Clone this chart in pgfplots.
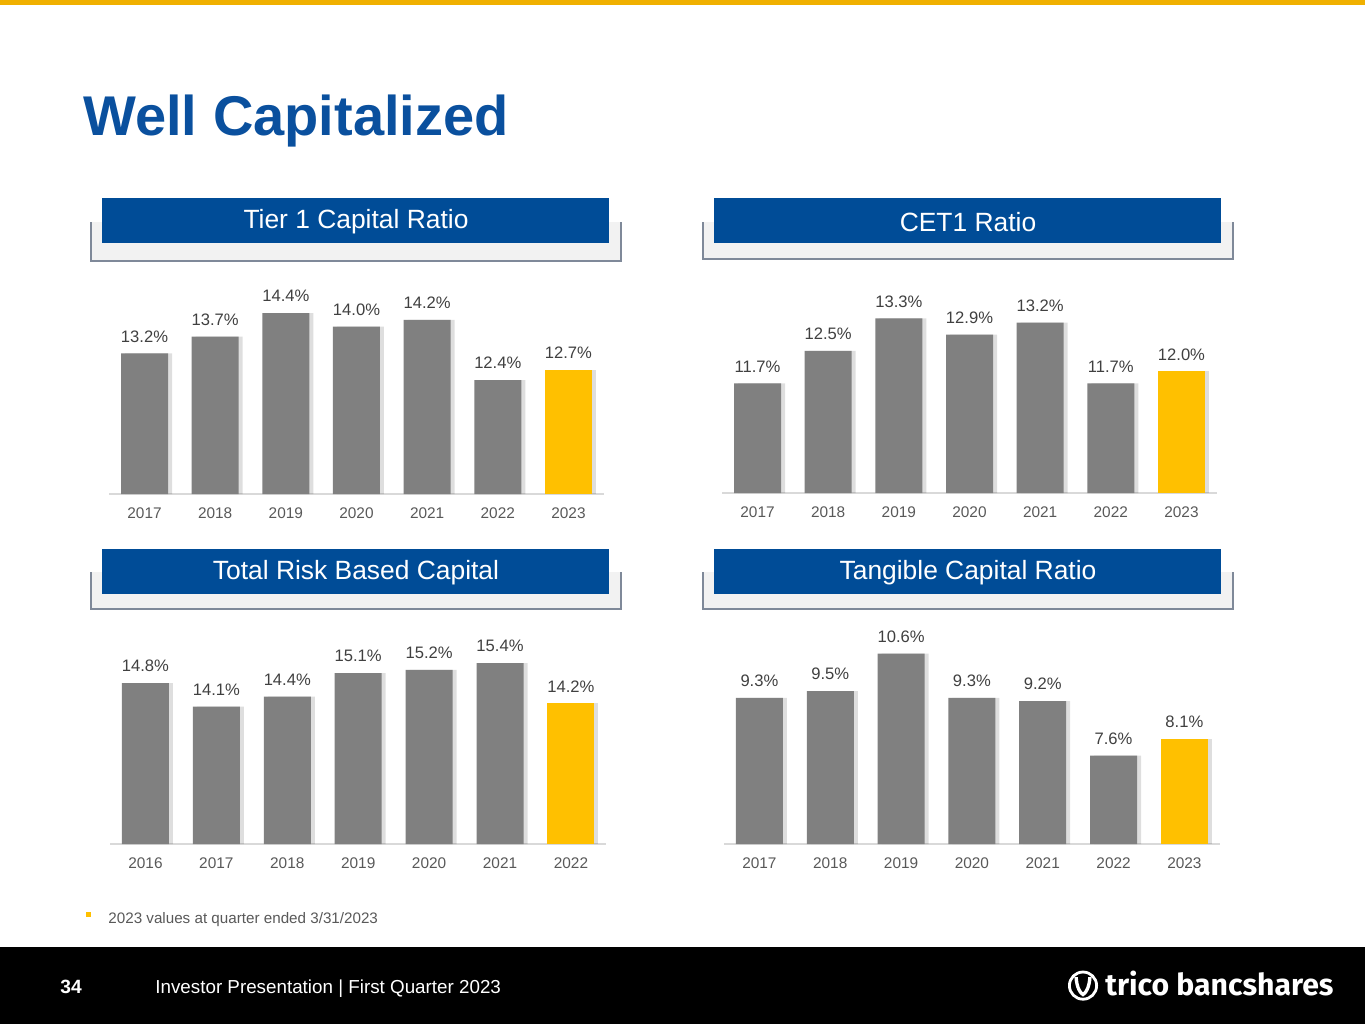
\documentclass[border=0pt]{standalone}
\usepackage{fontspec}
\setmainfont{Liberation Sans}
\newfontfamily\logofont{Fira Sans}
\usepackage{pgfplots}
\usepackage{pgfplotstable}
\pgfplotsset{compat=1.18}
\definecolor{bargray}{RGB}{128,128,128}
\definecolor{gold}{RGB}{255,192,0}
\definecolor{topgold}{RGB}{240,176,0}
\definecolor{valgray}{RGB}{64,64,64}
\definecolor{tickgray}{RGB}{89,89,89}
\definecolor{hdrblue}{RGB}{0,76,151}
\definecolor{titleblue}{RGB}{10,80,158}
\definecolor{boxedge}{RGB}{127,137,153}
\definecolor{boxfill}{RGB}{242,242,242}

\pgfplotstableread{
x y
0 13.2
1 13.7
2 14.4
3 14.0
4 14.2
5 12.4
}\tieronegray
\pgfplotstableread{
x y
6 12.7
}\tieroneyel
\pgfplotstableread{
x y
0 11.7
1 12.5
2 13.3
3 12.9
4 13.2
5 11.7
}\cetgray
\pgfplotstableread{
x y
6 12.0
}\cetyel
\pgfplotstableread{
x y
0 14.8
1 14.1
2 14.4
3 15.1
4 15.2
5 15.4
}\trbcgray
\pgfplotstableread{
x y
6 14.2
}\trbcyel
\pgfplotstableread{
x y
0 9.3
1 9.5
2 10.6
3 9.3
4 9.2
5 7.6
}\tcrgray
\pgfplotstableread{
x y
6 8.1
}\tcryel

\pgfplotsset{
  capaxis/.style={
    scale only axis, anchor=south west, ybar, bar width=23.5pt,
    xmin=-0.5, xmax=6.5, axis y line=none, axis x line*=bottom,
    x axis line style={-, draw=black!15, line width=0.8pt},
    xtick={0,...,6}, major tick length=0pt,
    xticklabel style={font=\fontsize{7.7}{9}\selectfont, text=tickgray, yshift=-3.5pt},
    /pgf/number format/assume math mode=true,
  },
  vals/.style={fill=#1, draw=none, bar shift=0pt,
    nodes near coords={\pgfmathprintnumber[fixed,fixed zerofill,precision=1]{\pgfplotspointmeta}\%},
    nodes near coords style={font=\fontsize{8.3}{10}\selectfont, text=valgray, yshift=2pt}},
  shadowbar/.style={fill=black, fill opacity=0.13, draw=none, bar shift=2pt},
}

\begin{document}
\begin{tikzpicture}
\fill[white] (0,0) rectangle (682.5pt,-512pt);
\useasboundingbox (0,0) rectangle (682.5pt,-512pt);
% top gold rule
\fill[topgold] (0,0) rectangle (682.5pt,-2.6pt);
% title
\node[anchor=base west, inner sep=0pt, text=titleblue, font=\fontsize{28}{30}\selectfont\bfseries] at (41.5pt,-67.5pt) {Well Capitalized};

% header boxes
\foreach \xa/\xb/\ya/\yb/\yc/\yd/\lab in {
  45.5/310.5/-111/-130.5/-99/-121.5/{Tier 1 Capital Ratio},
  351.5/616.5/-111/-129.5/-99/-121.5/{CET1 Ratio},
  45.5/310.5/-286/-304.5/-274.5/-297/{Total Risk Based Capital},
  351.5/616.5/-286/-304.5/-274.5/-297/{Tangible Capital Ratio}}{
  \fill[boxfill] (\xa pt,\ya pt) rectangle (\xb pt,\yb pt);
  \draw[boxedge, line width=0.6pt] (\xa pt,\ya pt) -- (\xa pt,\yb pt) -- (\xb pt,\yb pt) -- (\xb pt,\ya pt);
  \fill[hdrblue] (\xa pt+5.5pt,\yc pt) rectangle (\xb pt-6pt,\yd pt);
  \node[text=white, font=\fontsize{13.2}{15}\selectfont, inner sep=0pt] at ({(\xa+\xb)/2*1pt},{(\yc+\yd)/2*1pt-0.8pt}) {\lab};
}

% Tier 1
\begin{axis}[capaxis, at={(54.6pt,-247pt)}, width=247.3pt, height=117.25pt, ymin=9, ymax=16,
  xticklabels={2017,2018,2019,2020,2021,2022,2023}]
\addplot[shadowbar] table[x=x,y=y] {\tieronegray};
\addplot[shadowbar] table[x=x,y=y] {\tieroneyel};
\addplot[vals=bargray] table[x=x,y=y] {\tieronegray};
\addplot[vals=gold] table[x=x,y=y] {\tieroneyel};
\end{axis}

% CET1
\begin{axis}[capaxis, at={(361.1pt,-246.5pt)}, width=247.3pt, height=117.7pt, ymin=9, ymax=14.8,
  xticklabels={2017,2018,2019,2020,2021,2022,2023}]
\addplot[shadowbar] table[x=x,y=y] {\cetgray};
\addplot[shadowbar] table[x=x,y=y] {\cetyel};
\addplot[vals=bargray] table[x=x,y=y] {\cetgray};
\addplot[vals=gold] table[x=x,y=y] {\cetyel};
\end{axis}

% Total Risk Based Capital
\begin{axis}[capaxis, at={(55.0pt,-422pt)}, width=248.2pt, height=117.25pt, ymin=10, ymax=17,
  xticklabels={2016,2017,2018,2019,2020,2021,2022}]
\addplot[shadowbar] table[x=x,y=y] {\trbcgray};
\addplot[shadowbar] table[x=x,y=y] {\trbcyel};
\addplot[vals=bargray] table[x=x,y=y] {\trbcgray};
\addplot[vals=gold] table[x=x,y=y] {\trbcyel};
\end{axis}

% Tangible Capital Ratio
\begin{axis}[capaxis, at={(362.0pt,-422pt)}, width=247.9pt, height=119pt, ymin=5, ymax=12,
  xticklabels={2017,2018,2019,2020,2021,2022,2023}]
\addplot[shadowbar] table[x=x,y=y] {\tcrgray};
\addplot[shadowbar] table[x=x,y=y] {\tcryel};
\addplot[vals=bargray] table[x=x,y=y] {\tcrgray};
\addplot[vals=gold] table[x=x,y=y] {\tcryel};
\end{axis}

% footnote
\fill[gold] (42.8pt,-455.8pt) rectangle (45.3pt,-458.3pt);
\node[anchor=base west, inner sep=0pt, text=tickgray, font=\fontsize{7.6}{9}\selectfont] at (54pt,-461.5pt) {2023 values at quarter ended 3/31/2023};

% footer
\fill[black] (0,-473.5pt) rectangle (682.5pt,-512pt);
\node[anchor=base west, inner sep=0pt, text=white, font=\fontsize{9.6}{11}\selectfont\bfseries] at (30pt,-496.5pt) {34};
\node[anchor=base west, inner sep=0pt, text=white, font=\fontsize{9.4}{11}\selectfont] at (77.5pt,-496.5pt) {Investor Presentation | First Quarter 2023};
% logo
\draw[white, line width=1.4pt] (541.5pt,-492.8pt) circle (6.8pt);
\fill[white] (537.2pt,-488.6pt) .. controls (537.5pt,-494pt) and (539.5pt,-497.3pt) .. (541.5pt,-498.3pt)
  .. controls (543.5pt,-497.3pt) and (545.5pt,-494pt) .. (545.8pt,-488.6pt)
  -- (544.1pt,-488.6pt) .. controls (543.8pt,-493pt) and (542.7pt,-495.2pt) .. (541.5pt,-496.2pt)
  .. controls (540.3pt,-495.2pt) and (539.2pt,-493pt) .. (538.9pt,-488.6pt) -- cycle;
\node[anchor=base west, inner sep=0pt, text=white, font=\fontsize{15.1}{17}\selectfont\logofont\bfseries] at (552.5pt,-497.8pt) {trico bancshares};
\end{tikzpicture}
\end{document}
